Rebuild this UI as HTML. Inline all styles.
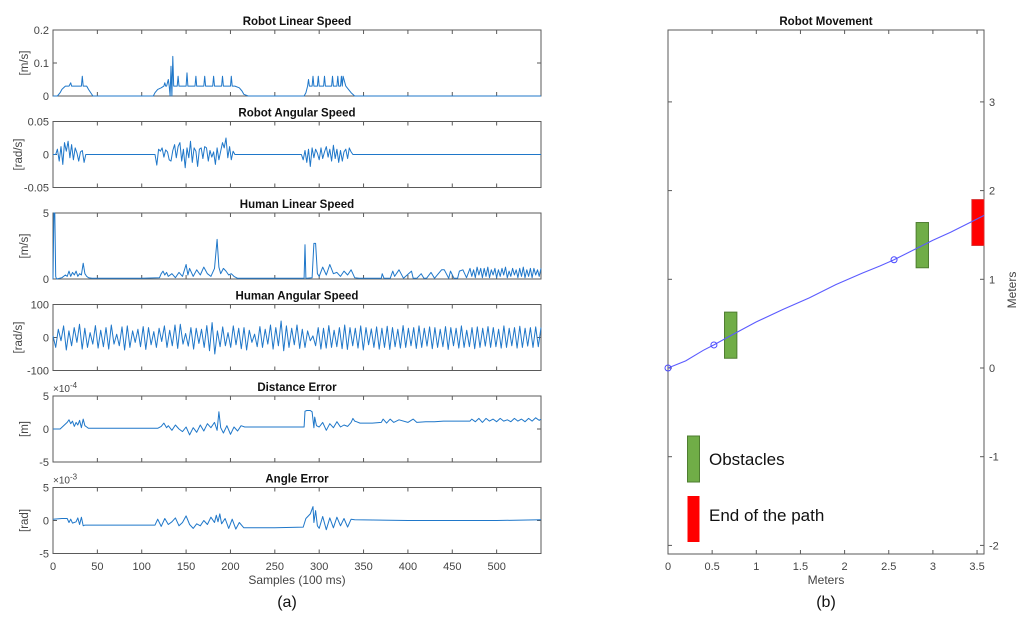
<!DOCTYPE html>
<html><head><meta charset="utf-8"><style>
html,body{margin:0;padding:0;background:#fff;width:1024px;height:617px;overflow:hidden}
svg{display:block}
text{font-family:"Liberation Sans",Arial,sans-serif}
</style></head><body>
<svg id="fig" width="1024" height="617" viewBox="0 0 1024 617">
<g id="left"></g>
<g id="right"></g>
</svg>
<script>
// ---------- data ----------
const xTicks=[0,50,100,150,200,250,300,350,400,450,500];
const titles=["Robot Linear Speed","Robot Angular Speed","Human Linear Speed","Human Angular Speed","Distance Error","Angle Error"];
const yUnits=["[m/s]","[rad/s]","[m/s]","[rad/s]","[m]","[rad]"];
const yMins=[0,-0.05,0,-100,-5,-5];
const yMaxs=[0.2,0.05,5,100,5,5];
const yTickVals=[[0,0.1,0.2],[-0.05,0,0.05],[0,5],[-100,0,100],[-5,0,5],[-5,0,5]];
const yTickLabels=[["0","0.1","0.2"],["-0.05","0","0.05"],["0","5"],["-100","0","100"],["-5","0","5"],["-5","0","5"]];
const exponents=["","","","","-4","-3"];

const rlX=[0,5,8,10,12,14,18,20,21,22,24,28,32,33,34,36,38,40,45,100,113,115,118,122,125,126,127,128,130,131,132,133,134,135,136,137,138,140,141,142,145,150,151,152,155,160,161,162,165,170,171,172,175,180,181,182,185,190,191,192,195,200,201,202,205,210,213,215,220,280,283,285,287,288,289,290,292,293,294,296,298,299,300,302,305,306,307,310,314,315,316,318,320,321,322,324,325,326,327,330,333,336,340,550];
const rlY=[0,0,0.01,0.02,0.025,0.03,0.03,0.04,0.03,0.03,0.03,0.03,0.03,0.06,0.03,0.03,0.03,0.02,0,0,0,0.01,0.02,0.025,0.03,0.04,0.03,0.03,0.05,0.03,0,0.09,0,0.12,0.03,0.03,0.03,0.03,0.06,0.03,0.03,0.03,0.07,0.03,0.03,0.03,0.06,0.03,0.03,0.03,0.06,0.03,0.03,0.03,0.06,0.03,0.03,0.03,0.06,0.03,0.03,0.03,0.06,0.03,0.03,0.025,0.015,0.005,0,0,0,0.01,0.03,0.05,0.03,0.03,0.03,0.06,0.03,0.03,0.03,0.06,0.03,0.03,0.03,0.06,0.03,0.03,0.03,0.06,0.03,0.03,0.03,0.06,0.03,0.03,0.06,0.03,0.06,0.03,0.02,0.01,0,0];

const raStarts=[3,115,280];
const raStep=2;
const raVals=[
[0,0.008,-0.01,0.012,-0.015,0.018,0.005,0.02,-0.005,0.015,-0.008,0.01,0.002,-0.01,0.004,0.006,-0.012,0],
[0,-0.016,0.008,0.005,0.01,-0.004,0.007,0.004,-0.008,-0.01,0.006,0.015,-0.005,0.012,0.018,-0.01,0.008,-0.02,0.01,-0.005,0.02,-0.012,0.01,0.005,-0.018,0.008,0.01,-0.006,0.012,0.01,-0.01,0.006,-0.004,0.004,-0.015,0.01,-0.008,0.005,0.018,0.01,0.025,-0.005,0.012,-0.008,0.005,0,0],
[0,-0.008,0.006,-0.012,0.008,-0.018,0.01,-0.005,0.008,0.002,-0.008,0.01,-0.006,0.004,0.012,-0.004,0.008,-0.01,0.014,-0.006,0.008,-0.012,0.006,-0.01,0.004,0.008,-0.006,0.01,0.004,0]
];

const hlX=[0,1,2,3,4,10,14,16,18,20,22,24,26,28,30,32,34,36,38,40,44,60,100,120,122,124,126,128,130,134,138,142,146,150,152,154,158,162,166,170,174,178,182,185,187,189,192,195,198,201,204,208,212,216,220,240,283,284,285,286,292,294,296,298,300,304,308,312,316,320,324,328,332,336,340,345,370,371,373,380,383,385,390,395,404,406,410,415,418,421,426,430,438,441,446,448,452,456,458,462,466,470,472,474,476,478,480,482,484,486,488,490,492,494,496,498,500,502,504,506,508,510,512,514,516,518,520,522,524,526,528,530,532,534,536,538,540,542,544,546,548,550];
const hlY=[0,5,5,0.2,0,0.1,0.3,0.2,0.6,0.2,0.5,0.3,0.6,0.2,0.4,0.3,1.2,0.4,0.2,0.1,0.05,0.05,0.05,0.1,0.4,0.6,0.3,0.5,0.2,0.4,0.1,0.5,0.2,1.1,0.3,0.8,0.2,0.7,0.3,0.9,0.4,0.2,0.8,3,0.9,0.4,0.8,0.6,0.3,0.4,0.2,0.05,0.05,0.05,0.05,0.05,0.05,2.6,0.05,0.05,0.1,2.7,2.7,0.4,0.2,0.9,0.3,1.1,0.4,0.5,0.2,0.6,0.3,0.7,0.1,0.05,0.05,0.4,0.05,0.05,0.6,0.2,0.7,0.05,0.6,0.05,0.05,0.4,0.05,0.05,0.5,0.05,0.7,0.7,0.05,0.6,0.05,0.05,0.6,0.7,0.1,0.8,0.2,0.7,0.1,0.9,0.3,0.8,0.1,0.8,0.2,0.9,0.1,0.7,0.3,0.8,0.1,0.7,0.2,0.8,0.3,0.9,0.1,0.6,0.2,0.8,0.3,0.7,0.1,0.8,0.2,0.9,0.1,0.7,0.2,0.8,0.1,0.8,0.3,0.7,0.2,0.8,0.3,0.5];

const haVals=[5,-30,25,-10,35,-38,20,-25,30,-15,40,-35,28,-30,15,-20,36,-32,22,-28,30,-35,38,-20,10,-25,32,-38,35,-30,20,-15,25,-28,33,-36,30,-22,18,-30,28,-12,35,-30,22,-25,38,-33,40,-20,12,-26,30,-35,28,-18,25,-30,36,-40,45,-50,20,-28,32,-25,15,-30,35,-22,28,-34,30,-38,22,-15,10,-28,33,-30,25,-20,38,-35,30,-25,50,-40,35,-30,28,-22,38,-33,25,-30,20,-10,5,-25,30,-35,28,-32,36,-30,22,-28,30,-34,38,-36,30,-25,28,-32,35,-38,30,-22,26,-30,32,-35,28,-30,34,-36,30,-28,25,-32,36,-30,28,-25,30,-33,35,-30,28,-26,32,-34,30,-30,25,-28,33,-36,30,-25,28,-32,35,-30,22,-28,30,-34,32,-30,28,-26,33,-30,30,-28,25,-32,35,-30,28,-25,30,-32,34,-30,28,-26,30,-30,32,-28,30];

const deX=[0,8,12,16,18,20,22,24,26,28,30,32,34,36,38,40,60,100,118,122,125,128,130,134,138,142,146,150,154,158,162,166,170,174,178,182,185,187,189,192,196,200,204,208,212,216,220,280,283,284,286,290,292,294,295,297,300,304,308,312,316,320,324,328,332,336,338,340,342,346,360,370,372,376,380,384,390,400,406,410,420,430,440,450,460,470,472,476,480,484,488,492,496,500,504,508,512,516,520,524,528,532,536,540,544,548,550];
const deY=[0,0,0.5,1,1.4,0.8,1.2,0.4,1,0.6,1.3,0.2,1.5,0.5,0.3,0.1,0.1,0.1,0.1,0.4,0.9,0.2,0.5,-0.2,0.6,0,-0.4,0.3,-0.9,0.2,-0.5,0.6,-0.3,0.8,0.2,1,-0.2,2.6,0.2,-0.6,0.5,-0.8,0.3,-0.3,0.5,0.3,0.3,0.3,0.3,2.7,2.8,2.8,2.6,0.2,1.8,0.5,0.3,1,-0.2,0.8,0.2,1.1,0.3,0.6,0.4,1,1.6,1.2,1.1,0.9,0.9,1,1.5,0.9,1.5,1,1.4,1,1.5,1,1.1,1.1,1.2,1.2,1.2,1.2,1.5,1.1,1.6,1,1.6,1.2,1.5,1.1,1.6,1.2,1.4,1.1,1.6,1.2,1.5,1.1,1.6,1.2,1.7,1.3,1.5];

const aeX=[0,10,16,18,20,22,26,28,30,32,34,36,40,60,100,115,118,122,126,130,134,138,142,146,150,154,158,162,166,170,174,178,182,184,186,188,190,194,198,202,206,210,215,250,282,285,290,293,294,296,298,300,304,308,312,316,320,324,328,332,336,340,400,500,550];
const aeY=[0.2,0.3,0.3,-0.3,0.2,-0.4,-0.2,0.4,-0.6,0.5,-0.8,-0.7,-0.7,-0.7,-0.7,-0.7,0.2,-0.9,0.3,-0.6,-0.2,0.4,-0.8,-0.3,0.7,-0.6,-1.2,-0.5,-0.8,0,-0.6,0.5,-0.3,0.8,-0.2,1,-0.5,0.3,-1.2,0.2,-1.3,-0.3,-1.1,-1.1,-1,0.3,1,2.1,-0.3,1.5,-0.8,-1.2,0.6,-1.4,0.4,-1.1,0.5,-0.8,0.3,-1,0.2,0.1,0,0,0.1];

// right chart data
const pathX=[0,0.2,0.4,0.52,0.7,1.0,1.3,1.6,1.9,2.2,2.4,2.56,2.8,3.0,3.2,3.5,3.58];
const pathY=[0,0.08,0.2,0.26,0.36,0.52,0.66,0.79,0.94,1.07,1.15,1.22,1.34,1.44,1.53,1.68,1.72];
const markerX=[0,0.52,2.56];
const markerY=[0,0.26,1.22];
const obsX0=[0.64,2.81]; const obsX1=[0.78,2.95];
const obsY0=[0.11,1.13]; const obsY1=[0.63,1.64];
const endX0=[3.44]; const endX1=[3.58]; const endY0=[1.38]; const endY1=[1.9];
const rxTicks=[0,0.5,1,1.5,2,2.5,3,3.5];
const rxLabels=["0","0.5","1","1.5","2","2.5","3","3.5"];
const ryTicks=[-2,-1,0,1,2,3];

// ---------- drawing ----------
const NS="http://www.w3.org/2000/svg";
function mk(tag,attrs,parent,txt){const e=document.createElementNS(NS,tag);for(const k in attrs)e.setAttribute(k,attrs[k]);if(txt!==undefined)e.textContent=txt;parent.appendChild(e);return e;}
const L=document.getElementById('left');
const PL=53,PR=541,PH=66;
const tops=[30,121.5,213,304.5,396,487.5];
const xs=v=>PL+(v/550)*(PR-PL);
const BLUE="#1f77c9",AX="#5a5a5a",TX="#444";

function seriesFor(i){
  if(i===0)return rlX.map((x,k)=>[x,rlY[k]]);
  if(i===1){let p=[[0,0]];raStarts.forEach((s,si)=>{raVals[si].forEach((v,k)=>p.push([s+k*raStep,v]));});p.push([550,0]);p.sort((a,b)=>a[0]-b[0]);
    const q=[];p.forEach((pt,k)=>{q.push(pt);});return q;}
  if(i===2)return hlX.map((x,k)=>[x,hlY[k]]);
  if(i===3){const st=550/(haVals.length-1);return haVals.map((v,k)=>[k*st,v]);}
  if(i===4)return deX.map((x,k)=>[x,deY[k]]);
  return aeX.map((x,k)=>[x,aeY[k]]);
}
for(let i=0;i<6;i++){
  const t=tops[i],b=t+PH;
  const g=mk('g',{},L);
  
  
  const ys=v=>b-(v-yMins[i])/(yMaxs[i]-yMins[i])*PH;
  const tt=mk('text',{x:(PL+PR)/2,y:t-5,'text-anchor':'middle','font-size':'11.5','font-weight':'bold',fill:'#111'},g,titles[i]);
  
  
  const box=mk('rect',{x:PL,y:t,width:PR-PL,height:PH,fill:'none',stroke:AX,'stroke-width':'1'},g);
  
  
  xTicks.forEach(v=>{const x=xs(v);
    mk('line',{x1:x,x2:x,y1:b,y2:b-4,stroke:AX},g);
    mk('line',{x1:x,x2:x,y1:t,y2:t+4,stroke:AX},g);});
  yTickVals[i].forEach((v,k)=>{const y=ys(v);
    mk('line',{x1:PL,x2:PL+4,y1:y,y2:y,stroke:AX},g);
    mk('line',{x1:PR,x2:PR-4,y1:y,y2:y,stroke:AX},g);
    const lb=mk('text',{x:PL-4,y:y+4,'text-anchor':'end','font-size':'11',fill:TX},g,yTickLabels[i][k]);
    
    });
  const yl=mk('text',{x:0,y:0,transform:`translate(${i===1||i===3?22:28},${t+PH/2}) rotate(-90)`,'text-anchor':'middle','font-size':'11.5',fill:TX},g,yUnits[i]);
  
  
  if(exponents[i]){
    const ex=mk('text',{x:PL,y:t-4,'font-size':'10',fill:TX},g);
    
    
    mk('tspan',{},ex,'×10');
    mk('tspan',{dy:'-4','font-size':'8'},ex,exponents[i]);
  }
  const pts=seriesFor(i).map(p=>xs(p[0]).toFixed(1)+','+ys(p[1]).toFixed(1)).join(' ');
  const ln=mk('polyline',{points:pts,fill:'none',stroke:BLUE,'stroke-width':'1','stroke-linejoin':'round'},g);
  
  
}
xTicks.forEach(v=>{const lb=mk('text',{x:xs(v),y:570,'text-anchor':'middle','font-size':'11',fill:TX},L,String(v));
  
  });
const xt=mk('text',{x:297,y:584,'text-anchor':'middle','font-size':'12',fill:TX},L,'Samples (100 ms)');


const ca=mk('text',{x:287,y:607,'text-anchor':'middle','font-size':'16',fill:'#111','font-family':'Liberation Serif, serif'},L,'(a)');



// right
const R=document.getElementById('right');
const RL=668,RR=984,RT=30,RB=554;
const rx=v=>RL+v*88.3;
const ry=v=>368-v*88.7;
const rt=mk('text',{x:(RL+RR)/2,y:RT-5,'text-anchor':'middle','font-size':'11.5','font-weight':'bold',fill:'#111'},R,'Robot Movement');


const rb=mk('rect',{x:RL,y:RT,width:RR-RL,height:RB-RT,fill:'none',stroke:AX},R);


rxTicks.forEach((v,k)=>{const x=rx(v);
  mk('line',{x1:x,x2:x,y1:RB,y2:RB-4,stroke:AX},R);
  mk('line',{x1:x,x2:x,y1:RT,y2:RT+4,stroke:AX},R);
  const lb=mk('text',{x:x,y:570,'text-anchor':'middle','font-size':'11',fill:TX},R,rxLabels[k]);
  
  });
ryTicks.forEach(v=>{const y=ry(v);
  mk('line',{x1:RL,x2:RL+4,y1:y,y2:y,stroke:AX},R);
  mk('line',{x1:RR,x2:RR-4,y1:y,y2:y,stroke:AX},R);
  const lb=mk('text',{x:RR+5,y:y+4,'font-size':'11',fill:TX},R,String(v));
  
  });
const rxt=mk('text',{x:826,y:584,'text-anchor':'middle','font-size':'12',fill:TX},R,'Meters');


const ryt=mk('text',{x:0,y:0,transform:'translate(1016,290) rotate(-90)','text-anchor':'middle','font-size':'12',fill:TX},R,'Meters');


const cb=mk('text',{x:826,y:607,'text-anchor':'middle','font-size':'16',fill:'#111','font-family':'Liberation Serif, serif'},R,'(b)');


obsX0.forEach((v,k)=>{const r=mk('rect',{x:rx(v),y:ry(obsY1[k]),width:rx(obsX1[k])-rx(v),height:ry(obsY0[k])-ry(obsY1[k]),fill:'#70ad47',stroke:'#4e7d30','stroke-width':'1'},R);
  
  });
endX0.forEach((v,k)=>{const r=mk('rect',{x:rx(v),y:ry(endY1[k]),width:rx(endX1[k])-rx(v),height:ry(endY0[k])-ry(endY1[k]),fill:'#ff0000',stroke:'#d04040','stroke-width':'0.8'},R);
  
  });
const pl=mk('polyline',{points:pathX.map((x,k)=>rx(x).toFixed(1)+','+ry(pathY[k]).toFixed(1)).join(' '),fill:'none',stroke:'#5b5bff','stroke-width':'1.1'},R);


markerX.forEach((v,k)=>{const c=mk('circle',{cx:rx(v),cy:ry(markerY[k]),r:3,fill:'none',stroke:'#4a4aff','stroke-width':'1'},R);
  
  });
// legend
const lg=mk('g',{},R);


const l1=mk('rect',{x:687.5,y:436,width:12,height:46,fill:'#70ad47',stroke:'#4e7d30'},lg);


const t1=mk('text',{x:709,y:465,'font-size':'17',fill:'#111'},lg,'Obstacles');


const l2=mk('rect',{x:687.5,y:496,width:12,height:46,fill:'#ff0000'},lg);


const t2=mk('text',{x:709,y:521,'font-size':'17',fill:'#111'},lg,'End of the path');


</script>
</body></html>
